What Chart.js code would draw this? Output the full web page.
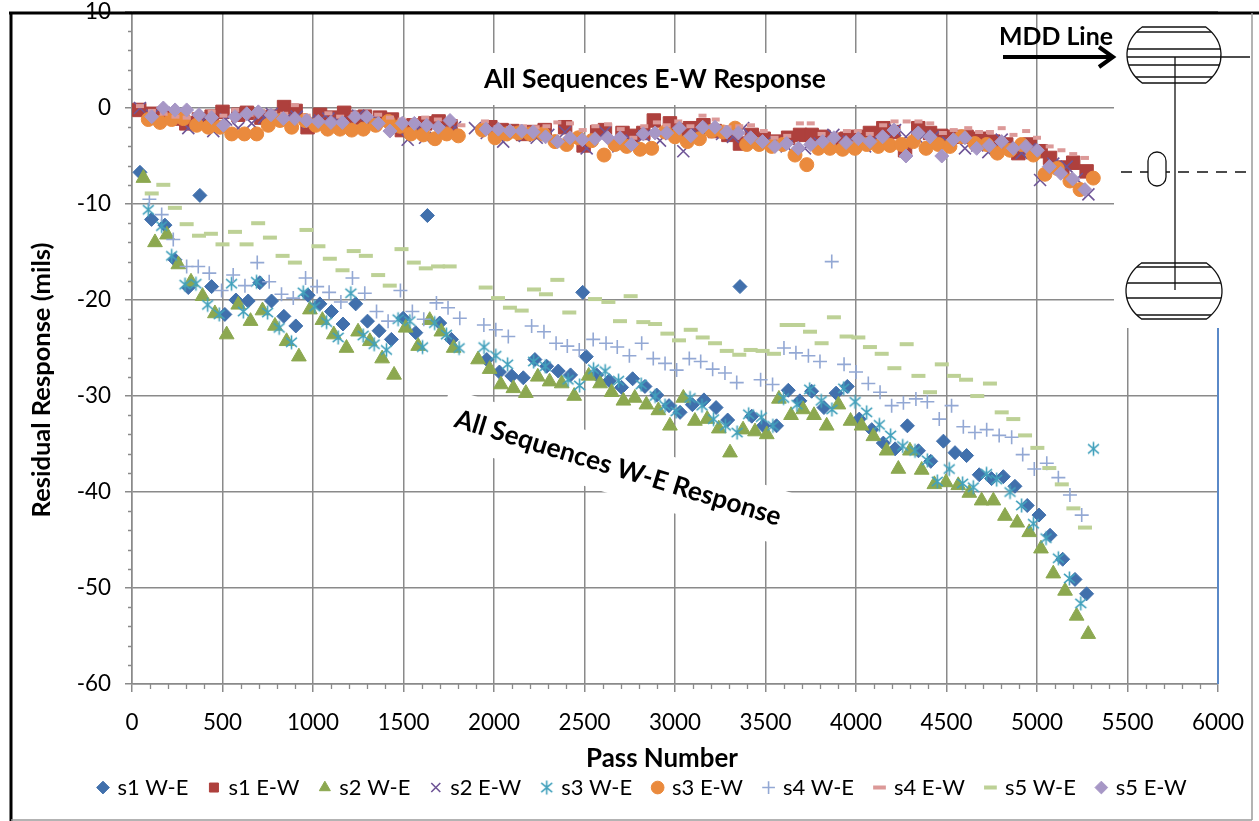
<!DOCTYPE html>
<html>
<head>
<meta charset="utf-8">
<script src="https://cdn.jsdelivr.net/npm/chart.js@4.4.1/dist/chart.umd.min.js"></script>
<style>
html,body{margin:0;padding:0;background:#fff;overflow:hidden;}
canvas{display:block;}
</style>
</head>
<body>
<canvas id="chart" width="1259" height="821"></canvas>
<script>
// ================= DATA =================
const seriesNames = ['s1 W-E','s1 E-W','s2 W-E','s2 E-W','s3 W-E','s3 E-W','s4 W-E','s4 E-W','s5 W-E','s5 E-W'];
const xTickValues = [0,500,1000,1500,2000,2500,3000,3500,4000,4500,5000,5500,6000];
const yTickValues = [-60,-50,-40,-30,-20,-10,0,10];

const s1WE = [[44,-6.7],[108,-11.6],[182,-12.2],[237,-15.8],[311,-18.7],[375,-9.1],[440,-18.6],[513,-21.5],[574,-20],[642,-20.1],[706,-18.2],[771,-20.1],[839,-21.7],[905,-22.7],[973,-19.5],[1038,-20.4],[1102,-21.2],[1166,-22.5],[1236,-20.4],[1301,-22.2],[1365,-23.2],[1433,-24.1],[1498,-21.9],[1568,-23.4],[1632,-11.2],[1700,-22.4],[1765,-24.1],[1960,-26.2],[2030,-27.5],[2098,-27.9],[2162,-28.1],[2226,-26.2],[2291,-26.9],[2355,-27.4],[2423,-27.8],[2490,-19.2],[2510,-25.9],[2567,-27.8],[2637,-28.4],[2705,-29.1],[2766,-28.2],[2834,-29],[2899,-29.9],[2967,-31],[3028,-31.7],[3096,-30.9],[3160,-30.4],[3227,-31.2],[3291,-32.5],[3359,-18.6],[3424,-32.1],[3488,-33.1],[3561,-33.1],[3626,-29.4],[3690,-30.5],[3755,-29.5],[3823,-31.2],[3890,-29.7],[3952,-29],[4018,-32.4],[4087,-33.5],[4151,-34.9],[4216,-35.5],[4284,-33.1],[4345,-35.7],[4413,-36.8],[4483,-34.7],[4547,-35.9],[4611,-36.2],[4681,-38.2],[4749,-38.6],[4814,-38.4],[4878,-39.4],[4946,-41.4],[5011,-42.4],[5072,-44.5],[5142,-47],[5210,-49.1],[5274,-50.6]];

const s1EW = [[40,-0.2],[110,-0.6],[175,-0.9],[240,-1.1],[300,-1.6],[370,-1.2],[440,-0.9],[500,-0.4],[587,-0.7],[635,-0.5],[715,-1.0],[780,-0.9],[840,0.1],[904,-0.3],[970,-2.0],[1039,-0.7],[1105,-1.0],[1172,-0.5],[1230,-1.0],[1287,-0.9],[1370,-1.0],[1436,-1.2],[1491,-2.3],[1555,-1.8],[1620,-1.6],[1694,-1.4],[1760,-1.9],[1980,-2.0],[2042,-2.3],[2100,-2.4],[2160,-2.7],[2220,-2.5],[2280,-2.3],[2393,-2.0],[2495,-3.9],[2570,-2.5],[2613,-2.3],[2710,-2.6],[2760,-2.9],[2825,-2.6],[2883,-1.3],[2972,-1.6],[3020,-2.3],[3083,-2.1],[3157,-1.8],[3220,-2.4],[3295,-2.8],[3359,-3.7],[3424,-2.8],[3490,-3.2],[3562,-3.5],[3625,-3.1],[3691,-2.8],[3755,-2.8],[3820,-3.0],[3885,-3.3],[3948,-3.2],[4010,-3.0],[4077,-2.6],[4151,-2.1],[4206,-2.5],[4271,-4.4],[4344,-2.1],[4409,-2.6],[4470,-2.9],[4538,-3.0],[4611,-3.0],[4685,-3.2],[4759,-3.5],[4830,-3.8],[4897,-4.7],[4961,-3.8],[5020,-4.5],[5072,-5.2],[5140,-6.2],[5200,-5.7],[5274,-6.6]];

const s2WE = [[63,-7.3],[127,-14],[193,-13.2],[256,-16.3],[326,-18.1],[390,-19.6],[458,-21.4],[523,-23.6],[587,-20.5],[655,-22.2],[721,-21.1],[790,-22.7],[854,-24.3],[922,-25.9],[983,-21],[1052,-22.1],[1115,-23.6],[1185,-25],[1249,-23.3],[1314,-24.3],[1382,-26.1],[1448,-27.8],[1512,-22.9],[1581,-24.8],[1645,-22.1],[1709,-23.3],[1777,-25],[1912,-26.2],[1976,-27.2],[2038,-28.8],[2107,-29.2],[2176,-29.7],[2242,-28],[2307,-28.5],[2374,-28.7],[2443,-30],[2523,-27.9],[2586,-28.7],[2650,-29.6],[2715,-30.5],[2778,-30.2],[2842,-30.9],[2908,-31.5],[2972,-33.1],[3046,-30.2],[3110,-32.6],[3178,-32.4],[3242,-33.4],[3304,-35.9],[3376,-33.5],[3442,-33.7],[3507,-34],[3574,-30.3],[3641,-32],[3708,-31.4],[3768,-32],[3838,-33.1],[3903,-30.9],[3970,-32.6],[4031,-33.1],[4096,-34.2],[4169,-35.7],[4234,-37.6],[4298,-35.7],[4363,-37.7],[4433,-39.2],[4497,-39],[4565,-39.3],[4626,-40.1],[4694,-40.9],[4759,-40.9],[4823,-42.5],[4891,-43.2],[4957,-44.2],[5022,-45.9],[5090,-48.5],[5155,-50.3],[5219,-52.9],[5283,-54.8]];

const s2EW = [[44,0],[110,-0.8],[175,-0.5],[240,-1.0],[311,-2.1],[380,-1.5],[449,-2.4],[520,-1.2],[587,-2.1],[661,-1.6],[730,-1.0],[772,-0.6],[845,-1.2],[910,-0.9],[975,-1.5],[1040,-1.3],[1085,-1.1],[1150,-1.6],[1250,-0.8],[1320,-1.4],[1390,-1.8],[1460,-1.9],[1523,-3.3],[1580,-2.1],[1619,-3.1],[1700,-2.4],[1785,-2.0],[1895,-2.1],[1960,-2.6],[2051,-3.5],[2107,-2.8],[2170,-2.9],[2236,-3.1],[2300,-2.8],[2392,-2.5],[2450,-3.2],[2512,-4.2],[2613,-2.5],[2687,-4.0],[2760,-3.4],[2830,-2.9],[2917,-3.4],[2980,-2.7],[3046,-4.5],[3120,-2.6],[3193,-2.1],[3260,-2.7],[3320,-3.0],[3377,-2.1],[3442,-3.8],[3500,-3.6],[3560,-3.9],[3617,-4.0],[3718,-4.2],[3800,-3.7],[3875,-2.8],[3960,-3.5],[4050,-4.0],[4100,-3.3],[4151,-3.5],[4216,-2.3],[4276,-3.0],[4350,-3.3],[4427,-3.0],[4510,-3.6],[4602,-4.2],[4670,-3.9],[4731,-4.6],[4805,-3.3],[4860,-4.1],[4915,-4.7],[4960,-4.3],[5017,-7.5],[5090,-5.8],[5164,-6.1],[5220,-7.4],[5284,-9.0]];

const s3WE = [[90,-10.6],[164,-12.3],[219,-15.4],[293,-18.4],[353,-18.3],[418,-20.5],[482,-21.5],[550,-18.3],[615,-21.2],[688,-18.1],[749,-21.3],[813,-22.9],[881,-24.4],[946,-19.2],[1010,-20.7],[1075,-22.3],[1139,-23.9],[1209,-19.3],[1277,-23.7],[1338,-24.6],[1406,-25.2],[1470,-22],[1535,-22.2],[1605,-24.9],[1672,-22.4],[1737,-23.6],[1807,-25],[1945,-24.9],[2010,-25.8],[2075,-26.7],[2219,-26.4],[2283,-26.9],[2409,-28.3],[2473,-28.9],[2550,-27.2],[2614,-27.4],[2688,-28.4],[2813,-28.8],[2890,-30],[2945,-31],[3006,-31.6],[3083,-30.2],[3149,-31],[3213,-32.4],[3278,-33.1],[3343,-33.8],[3407,-31.9],[3477,-32.2],[3541,-33.1],[3600,-30.2],[3674,-30.9],[3744,-29.3],[3808,-30.5],[3867,-31.4],[3932,-29.2],[3995,-30.6],[4059,-31.7],[4129,-33],[4191,-34.1],[4258,-35.2],[4326,-35.7],[4394,-36.7],[4449,-38.9],[4515,-37.6],[4589,-39.1],[4648,-39.5],[4721,-38.1],[4777,-38.7],[4851,-40],[4915,-41.4],[4980,-43.3],[5050,-44.8],[5118,-46.9],[5179,-49],[5242,-51.6],[5312,-35.5]];

const s3EW = [[90,-1.2],[155,-1.5],[219,-1.2],[284,-1.1],[357,-1.8],[422,-2],[486,-2],[551,-2.7],[621,-2.7],[689,-2.7],[753,-1.8],[818,-1.3],[882,-2],[956,-1.3],[1015,-1.8],[1081,-2.2],[1149,-2.2],[1214,-2.3],[1278,-2.2],[1346,-1.8],[1416,-1.4],[1481,-1.9],[1541,-2.7],[1609,-2.8],[1674,-3.2],[1739,-2.7],[1803,-2.9],[1936,-2.3],[2006,-3.1],[2070,-2.7],[2134,-2.6],[2199,-2.7],[2272,-2.7],[2337,-3.5],[2401,-3.8],[2466,-3.1],[2540,-3.4],[2608,-4.9],[2669,-3.8],[2733,-4],[2807,-4.3],[2871,-4.2],[2945,-2.5],[3000,-3],[3068,-3.5],[3135,-3.2],[3203,-2.4],[3267,-2.5],[3332,-2.1],[3396,-3.8],[3465,-3.8],[3534,-4],[3595,-3.8],[3663,-4.9],[3728,-5.9],[3792,-4.2],[3856,-4.2],[3926,-4.3],[3994,-4.2],[4059,-3.8],[4123,-4],[4188,-3.9],[4252,-3.8],[4317,-3.5],[4387,-4.2],[4455,-3.8],[4519,-4],[4584,-3],[4657,-3.7],[4722,-3.8],[4781,-4.7],[4851,-4.4],[4915,-3.8],[4980,-4.9],[5044,-6.9],[5112,-6.3],[5182,-7.6],[5238,-8.5],[5311,-7.3]];

const s4WE = [[96,-9.5],[164,-11.1],[228,-13.7],[302,-16.5],[366,-16.5],[427,-17.2],[495,-19],[559,-17.4],[624,-18.5],[692,-16.1],[758,-18.1],[826,-19.4],[891,-19.8],[959,-17.7],[1023,-18.6],[1089,-19.2],[1154,-20.2],[1218,-17.7],[1286,-19.3],[1351,-21.2],[1415,-22.2],[1483,-19],[1549,-21.2],[1612,-22],[1682,-20.3],[1746,-20.8],[1811,-21.9],[1944,-22.6],[2010,-23.1],[2079,-23.8],[2208,-22.7],[2276,-23.3],[2343,-24.5],[2405,-24.8],[2471,-25.2],[2548,-24.1],[2619,-24.5],[2681,-24.9],[2748,-25.8],[2816,-24.5],[2880,-26.1],[2945,-26.6],[3009,-27.3],[3079,-26.1],[3142,-26.4],[3208,-27.2],[3276,-27.6],[3341,-28.6],[3473,-28.3],[3539,-28.8],[3602,-25],[3668,-25.5],[3737,-25.8],[3801,-26.4],[3866,-16],[3934,-26.7],[4000,-27.5],[4068,-28.7],[4133,-29.6],[4197,-31],[4262,-30.7],[4331,-30.3],[4394,-30.6],[4460,-32.4],[4528,-31],[4593,-33.2],[4657,-33.8],[4722,-33.5],[4791,-34.1],[4860,-34.3],[4921,-36.1],[4985,-37.6],[5054,-37],[5118,-38.5],[5182,-40.3],[5247,-42.4]];

const s4EW = [[44,0.2],[110,-0.3],[175,-0.6],[240,-0.9],[302,-1.0],[370,-0.8],[440,-0.4],[505,-0.8],[570,-0.2],[650,-0.7],[715,-0.3],[780,-0.5],[841,-0.6],[900,0.3],[965,-0.8],[1085,-0.55],[1150,-0.9],[1230,-0.6],[1290,-1.0],[1360,-0.7],[1425,-1.0],[1490,-1.2],[1560,-1.3],[1620,-1.0],[1690,-1.2],[1760,-1.5],[1820,-1.8],[1950,-1.4],[2020,-2.0],[2090,-2.1],[2160,-1.9],[2230,-2.0],[2290,-1.9],[2350,-1.5],[2420,-1.6],[2490,-2.3],[2560,-1.9],[2630,-1.7],[2700,-2.2],[2770,-3.1],[2830,-1.9],[2900,-1.5],[2954,-1.8],[3018,-1.4],[3085,-1.9],[3152,-0.8],[3225,-1.2],[3290,-2.0],[3355,-1.9],[3420,-1.8],[3490,-2.4],[3550,-3.1],[3620,-2.9],[3690,-1.6],[3750,-1.6],[3810,-2.7],[3880,-2.8],[3950,-2.4],[4010,-2.4],[4076,-2.7],[4150,-1.8],[4213,-1.4],[4280,-1.4],[4345,-1.4],[4410,-1.6],[4480,-2.6],[4540,-2.3],[4620,-2.1],[4680,-2.5],[4740,-2.5],[4805,-2.1],[4870,-2.8],[4940,-2.4],[5000,-3.1],[5070,-4.0],[5135,-4.4],[5200,-4.8],[5265,-5.2]];

const s5WE = [[109,-8.9],[173,-8],[237,-10.4],[302,-12.1],[370,-13.3],[436,-13.1],[500,-14.2],[569,-12.9],[633,-14.2],[697,-12],[762,-13.5],[832,-15.4],[900,-16.1],[964,-12.7],[1030,-14.4],[1093,-15.7],[1163,-16.9],[1225,-14.9],[1292,-15.4],[1360,-17.4],[1424,-18.5],[1489,-14.7],[1557,-16.1],[1623,-16.7],[1691,-16.5],[1755,-16.5],[1954,-18.7],[2022,-19.8],[2088,-20.8],[2153,-21.1],[2221,-18.9],[2287,-19.4],[2350,-17.9],[2416,-21.3],[2558,-19.9],[2632,-20.2],[2696,-22.2],[2755,-19.6],[2825,-22.3],[2890,-22.5],[2958,-23.5],[3022,-24.2],[3087,-23.1],[3153,-23.9],[3221,-24.5],[3286,-25.3],[3355,-25.7],[3418,-25.2],[3484,-25.3],[3547,-25.6],[3617,-22.6],[3681,-22.6],[3746,-23.3],[3810,-24.5],[3878,-21.8],[3948,-23.8],[4013,-23.9],[4077,-24.9],[4142,-25.6],[4212,-27.1],[4280,-24.6],[4345,-27.9],[4409,-29.6],[4474,-26.7],[4541,-27.9],[4608,-28.3],[4670,-30],[4740,-28.7],[4805,-31.7],[4869,-32.4],[4934,-34.1],[5002,-35.4],[5068,-37.5],[5137,-39.2],[5201,-41.7],[5265,-43.7]];

const s5EW = [[109,-0.9],[173,0],[238,-0.2],[302,-0.2],[370,-0.7],[440,-1],[505,-1.8],[569,-0.9],[634,-0.6],[698,-0.4],[768,-0.7],[836,-1.1],[900,-1.1],[965,-1.3],[1029,-1.4],[1099,-1.5],[1162,-1.5],[1232,-0.9],[1297,-0.9],[1361,-1.6],[1425,-2.4],[1493,-1.6],[1560,-1.6],[1628,-1.8],[1692,-2],[1757,-1.3],[1956,-2.2],[2024,-2.2],[2088,-2.4],[2153,-2.4],[2217,-2.5],[2285,-3],[2352,-3.5],[2420,-3.1],[2488,-3.3],[2558,-3.2],[2628,-3.1],[2696,-3.1],[2760,-3.8],[2825,-2.7],[2890,-2.6],[2954,-2.6],[3024,-2.1],[3087,-2.9],[3153,-2],[3221,-2],[3286,-2.5],[3350,-2.6],[3418,-3.1],[3484,-3.5],[3552,-4],[3617,-3.7],[3681,-4.2],[3750,-3.8],[3816,-3.5],[3878,-3.1],[3945,-3.6],[4013,-3.2],[4077,-3.5],[4147,-3],[4210,-2.3],[4276,-5],[4344,-2.6],[4409,-3],[4474,-5],[4538,-3.3],[4602,-3.1],[4667,-4.2],[4736,-3.9],[4805,-3.5],[4869,-4.2],[4939,-4],[5002,-4.4],[5068,-6.1],[5131,-6.8],[5197,-7.4],[5265,-8.5]];

// ================= STYLE =================
const FONT = 'Lato';
const GRID = '#8a8a8a';
const COLORS = ['#4170AC','#AE403D','#8CA850','#6F5597','#42A1BC','#EA8A3D','#93A8D4','#DC9998','#BDD196','#A797C6'];

const mctx = document.createElement('canvas').getContext('2d');
function fitSize(text, weight, target){
  mctx.font = weight + ' 100px ' + FONT;
  return 100 * target / mctx.measureText(text).width;
}
const tickSize = fitSize('5000', 'normal', 52);
const legendSize = fitSize('s1 W-E', 'normal', 71);
const yTitleSize = fitSize('Residual Response (mils)', 'bold', 275);
const xTitleSize = fitSize('Pass Number', 'bold', 152);
const ewTitleSize = fitSize('All Sequences E-W Response', 'bold', 342);
const weTitleSize = fitSize('All Sequences W-E Response', 'bold', 340);
const mddSize = fitSize('MDD Line', 'bold', 114);

function asterisk(color){
  const s = 17, c = document.createElement('canvas');
  c.width = s; c.height = s;
  const g = c.getContext('2d');
  g.strokeStyle = color; g.lineWidth = 1.6; g.lineCap = 'butt';
  const m = s/2, r = 7;
  g.beginPath();
  g.moveTo(m, m-r); g.lineTo(m, m+r);
  const d = r*0.78;
  g.moveTo(m-d, m-d*0.85); g.lineTo(m+d, m+d*0.85);
  g.moveTo(m-d, m+d*0.85); g.lineTo(m+d, m-d*0.85);
  g.stroke();
  return c;
}

const markers = [
  {pointStyle:'rectRot', radius:7, bw:1},
  {pointStyle:'rect', radius:9.5, bw:1},
  {pointStyle:'triangle', radius:8.5, bw:1},
  {pointStyle:'crossRot', radius:8.5, bw:1.6},
  {pointStyle:asterisk(COLORS[4]), radius:8, bw:1},
  {pointStyle:'circle', radius:7, bw:1},
  {pointStyle:'cross', radius:7, bw:1.6},
  {pointStyle:'line', radius:4, bw:4},
  {pointStyle:'line', radius:7, bw:4},
  {pointStyle:'rectRot', radius:7, bw:1}
];
const seriesData = [s1WE,s1EW,s2WE,s2EW,s3WE,s3EW,s4WE,s4EW,s5WE,s5EW];

const datasets = seriesNames.map((name, i) => ({
  label: name,
  data: seriesData[i].map(p => ({x: p[0], y: p[1]})),
  pointStyle: markers[i].pointStyle,
  pointRadius: markers[i].radius,
  pointHoverRadius: markers[i].radius,
  pointBorderWidth: markers[i].bw,
  backgroundColor: COLORS[i],
  borderColor: COLORS[i],
  showLine: false,
  order: 10 - i
}));

const LEGEND_START = 99.5;   // left edge of the first legend marker box
const LEGEND_PAD = 22;
const WE_ANGLE = 17 * Math.PI / 180;

function line(ctx, x1, y1, x2, y2){ ctx.beginPath(); ctx.moveTo(x1,y1); ctx.lineTo(x2,y2); ctx.stroke(); }

function capsulePath(ctx, cx, cy, rx, ry, yTop, yBot){
  const tT = Math.asin((yTop - cy) / ry), tB = Math.asin((yBot - cy) / ry);
  ctx.beginPath();
  ctx.moveTo(cx - rx*Math.cos(tT), yTop);
  ctx.lineTo(cx + rx*Math.cos(tT), yTop);
  ctx.ellipse(cx, cy, rx, ry, 0, tT, tB, false);
  ctx.lineTo(cx - rx*Math.cos(tB), yBot);
  ctx.ellipse(cx, cy, rx, ry, 0, Math.PI - tB, Math.PI - tT, false);
  ctx.closePath();
}
function drawCapsule(ctx, cx, cy, rx, ry, yTop, yBot, inner){
  ctx.save();
  capsulePath(ctx, cx, cy, rx, ry, yTop, yBot);
  ctx.fillStyle = '#fff'; ctx.fill(); ctx.stroke();
  ctx.clip();
  inner.forEach(y => line(ctx, cx - rx - 2, y, cx + rx + 2, y));
  ctx.restore();
}

const decor = {
  id: 'decor',
  afterLayout(chart){
    const lg = chart.legend;
    if (lg && lg.lineWidths) {
      const cur = (lg.left + LEGEND_PAD + lg.right - lg.lineWidths[0]) / 2;
      const dx = LEGEND_START - cur;
      lg.left += dx; lg.right += dx;
    }
  },
  beforeDatasetsDraw(chart){
    const ctx = chart.ctx, xs = chart.scales.x, ys = chart.scales.y;
    ctx.save();
    // minor tick marks
    ctx.strokeStyle = GRID; ctx.lineWidth = 1.3;
    ctx.beginPath();
    for (let v = -58; v < 10; v += 2) {
      if (v % 10 === 0) continue;
      const y = Math.round(ys.getPixelForValue(v)) + 0.5;
      ctx.moveTo(xs.left - 4, y); ctx.lineTo(xs.left, y);
    }
    for (let p = 100; p < 6000; p += 100) {
      if (p % 500 === 0) continue;
      const x = Math.round(xs.getPixelForValue(p)) + 0.5;
      ctx.moveTo(x, ys.bottom); ctx.lineTo(x, ys.bottom + 5);
    }
    ctx.stroke();
    // white text / picture boxes
    ctx.fillStyle = '#fff';
    ctx.fillRect(1114, 14, 145, 314);
    ctx.fillRect(432, 53, 446, 52);
    ctx.save();
    ctx.translate(618, 468); ctx.rotate(WE_ANGLE);
    ctx.fillRect(-184, -27, 368, 54);
    ctx.restore();
    // right edge (blue)
    ctx.strokeStyle = '#5A89C8'; ctx.lineWidth = 2;
    line(ctx, xs.right, 328, xs.right, ys.bottom);
    ctx.restore();
  },
  afterDatasetsDraw(chart){
    const ctx = chart.ctx;
    ctx.save();
    ctx.fillStyle = '#000';
    ctx.textAlign = 'center'; ctx.textBaseline = 'middle';
    ctx.font = 'bold ' + ewTitleSize + 'px ' + FONT;
    ctx.fillText('All Sequences E-W Response', 655, 79);
    ctx.save();
    ctx.translate(618, 468); ctx.rotate(WE_ANGLE);
    ctx.font = 'bold ' + weTitleSize + 'px ' + FONT;
    ctx.fillText('All Sequences W-E Response', 0, 0);
    ctx.restore();
    // axis titles
    ctx.font = 'bold ' + xTitleSize + 'px ' + FONT;
    ctx.fillText('Pass Number', 662, 759);
    ctx.save();
    ctx.translate(42, 380); ctx.rotate(-Math.PI / 2);
    ctx.font = 'bold ' + yTitleSize + 'px ' + FONT;
    ctx.fillText('Residual Response (mils)', 0, 0);
    ctx.restore();
    ctx.restore();
  },
  afterDraw(chart){
    const ctx = chart.ctx;
    ctx.save();
    // ---- cross-section sketch ----
    ctx.strokeStyle = '#111'; ctx.lineWidth = 1.3;
    line(ctx, 1175, 57, 1175, 290);
    ctx.setLineDash([11, 8]);
    line(ctx, 1121, 172, 1252, 172);
    ctx.setLineDash([]);
    drawCapsule(ctx, 1174, 55, 47, 38, 27, 83, [32, 49, 65, 77]);
    line(ctx, 1127, 57, 1250, 57);
    line(ctx, 1175, 57, 1175, 83);
    drawCapsule(ctx, 1174, 291, 48, 38, 263, 319, [267, 283, 298, 315]);
    line(ctx, 1175, 263, 1175, 290);
    // pill
    ctx.beginPath();
    ctx.roundRect(1148, 152, 18, 34, 9);
    ctx.fillStyle = '#fff'; ctx.fill(); ctx.stroke();
    // arrow
    ctx.strokeStyle = '#000'; ctx.lineWidth = 4; ctx.lineCap = 'butt';
    line(ctx, 1003, 57, 1110, 57);
    ctx.lineJoin = 'miter';
    ctx.beginPath(); ctx.moveTo(1099, 47); ctx.lineTo(1113, 57); ctx.lineTo(1099, 67); ctx.stroke();
    ctx.fillStyle = '#000'; ctx.textAlign = 'center'; ctx.textBaseline = 'middle';
    ctx.font = 'bold ' + mddSize + 'px ' + FONT;
    ctx.fillText('MDD Line', 1056, 37);
    // ---- outer frame ----
    ctx.strokeStyle = '#000'; ctx.lineWidth = 3;
    line(ctx, 9, 13, 1259, 13);
    line(ctx, 11, 12, 11, 821);
    ctx.strokeStyle = '#9a9a9a'; ctx.lineWidth = 1.5;
    line(ctx, 1252, 13, 1252, 820);
    line(ctx, 11, 820, 1252, 820);
    ctx.restore();
  }
};

const chart = new Chart(document.getElementById('chart'), {
  type: 'scatter',
  data: { datasets },
  options: {
    responsive: false,
    animation: false,
    devicePixelRatio: 1,
    layout: { padding: { left: 10, top: 12, right: 41, bottom: 12.5 } },
    scales: {
      x: {
        type: 'linear', min: 0, max: 6000,
        afterBuildTicks(s){ s.ticks = xTickValues.map(v => ({value: v})); },
        ticks: { font: { family: FONT, size: tickSize }, color: '#000', padding: 17, maxRotation: 0, autoSkip: false, callback: v => String(v) },
        grid: { color: GRID, lineWidth: 1.5, tickLength: 8, tickColor: GRID },
        border: { color: GRID, width: 1.5 },
        afterFit(s){ s.height = 70.5; s.paddingLeft = 0; s.paddingRight = 0; }
      },
      y: {
        min: -60, max: 10,
        afterBuildTicks(s){ s.ticks = yTickValues.map(v => ({value: v})); },
        ticks: { font: { family: FONT, size: tickSize, lineHeight: 1 }, color: '#000', padding: 14, callback: v => String(v) },
        grid: { color: GRID, lineWidth: 1.5, tickLength: 7, tickColor: GRID },
        border: { color: GRID, width: 1.5 },
        afterFit(s){ s.width = 122; s.paddingTop = 0; s.paddingBottom = 0; }
      }
    },
    plugins: {
      legend: {
        position: 'bottom',
        labels: {
          usePointStyle: true, boxHeight: 9, boxWidth: 7, padding: LEGEND_PAD,
          font: { family: FONT, size: legendSize }, color: '#000',
          sort: (a, b) => a.datasetIndex - b.datasetIndex
        }
      },
      tooltip: { enabled: false }
    }
  },
  plugins: [decor]
});
</script>
</body>
</html>
